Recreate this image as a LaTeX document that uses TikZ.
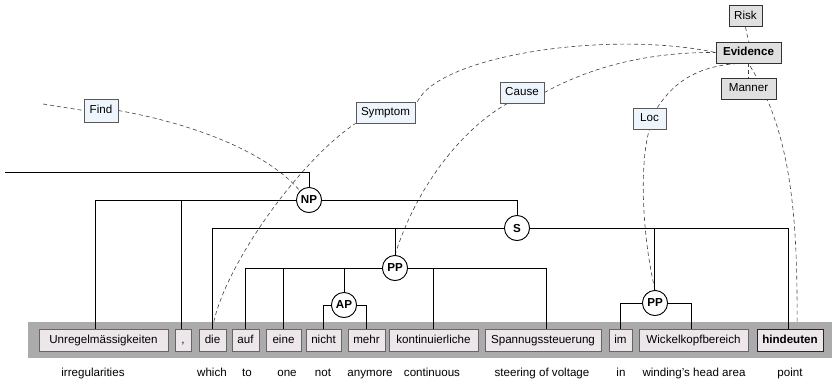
\documentclass[tikz,border=0pt]{standalone}
\usepackage{fontspec}
\setmainfont{Liberation Sans}
\begin{document}
\begin{tikzpicture}[x=1pt,y=-1pt,
  font=\fontsize{11.6}{13}\selectfont,
  treeedge/.style={draw=black,line width=0.8pt},
  roleedge/.style={draw=black!75,line width=0.6pt,dash pattern=on 4pt off 3pt},
  phrase/.style={circle,draw=black,fill=white,line width=0.8pt,minimum size=25pt,inner sep=0pt,font=\fontsize{11.6}{13}\selectfont\bfseries},
  wordbox/.style={draw=black!60,fill=wordfill,line width=0.7pt,minimum height=22pt,inner sep=0pt,text height=8.4pt,text depth=2.4pt},
  rolebox/.style={draw=black!65,fill=rolefill,line width=0.7pt,minimum height=21pt,inner sep=0pt,text height=8.4pt,text depth=2.4pt},
  framebox/.style={draw=black!80,fill=black!12,line width=0.8pt,minimum height=21pt,inner sep=0pt,text height=8.4pt,text depth=2.4pt},
  gloss/.style={inner sep=0pt,text height=8.4pt,text depth=2.4pt}
]
\definecolor{wordfill}{HTML}{EDE7EB}
\definecolor{rolefill}{HTML}{EEF5FD}
\definecolor{bandgray}{HTML}{ABABAB}
\useasboundingbox (0,0) rectangle (835,384);

% frame and role labels
\node[framebox,minimum width=33pt] (risk) at (745.5,16) {Risk};
\node[framebox,minimum width=65pt,font=\fontsize{11.6}{13}\selectfont\bfseries] (evid) at (748.5,52.5) {Evidence};
\node[framebox,minimum width=55pt] (manner) at (748.5,88.5) {Manner};
\node[rolebox,minimum width=34pt,minimum height=23pt] (find) at (101,110.5) {Find};
\node[rolebox,minimum width=59pt] (symptom) at (385.5,112.5) {Symptom};
\node[rolebox,minimum width=44pt] (cause) at (522,92.5) {Cause};
\node[rolebox,minimum width=33pt] (loc) at (649.5,118.5) {Loc};

% phrase nodes of the tree
\node[phrase] (np) at (309,200) {NP};
\node[phrase] (s) at (517,228) {S};
\node[phrase] (pp1) at (395,268) {PP};
\node[phrase] (ap) at (344,305) {AP};
\node[phrase] (pp2) at (655,303) {PP};

% words of the sentence (positions only; drawn later over the band)
\path
  (103.5,340) node[wordbox,minimum width=129pt] (w1) {Unregelmässigkeiten}
  (183,340)   node[wordbox,minimum width=16pt] (w2) {,}
  (212.5,340) node[wordbox,minimum width=27pt] (w3) {die}
  (245.5,340) node[wordbox,minimum width=27pt] (w4) {auf}
  (283.5,340) node[wordbox,minimum width=35pt] (w5) {eine}
  (323.5,340) node[wordbox,minimum width=35pt] (w6) {nicht}
  (366.5,340) node[wordbox,minimum width=37pt] (w7) {mehr}
  (433.5,340) node[wordbox,minimum width=89pt] (w8) {kontinuierliche}
  (543,340)   node[wordbox,minimum width=116pt] (w9) {Spannugssteuerung}
  (620.5,340) node[wordbox,minimum width=23pt] (w10) {im}
  (693.5,340) node[wordbox,minimum width=109pt] (w11) {Wickelkopfbereich}
  (790,340)   node[wordbox,minimum width=66pt,draw=black!85,font=\fontsize{11.6}{13}\selectfont\bfseries] (w12) {hindeuten};

% role links (dashed), behind everything else
\coordinate (findsrc) at (43,104);
\coordinate (root) at (5,172);
\draw[roleedge] (findsrc) -- (find.west);
\draw[roleedge] (find.east) .. controls (200,125) and (270,155) .. (np.135);
\draw[roleedge] (w3.north) .. controls (222,268) and (300,160) .. (symptom.south west);
\draw[roleedge] ([xshift=2pt]symptom.north east) .. controls (440,55) and (610,30) .. (evid.west);
\draw[roleedge] (pp1.north) .. controls (415,190) and (460,130) .. ([xshift=8pt]cause.south west);
\draw[roleedge] (cause.east) .. controls (600,62) and (660,52) .. (evid.west);
\draw[roleedge] (pp2.north) .. controls (641,230) and (640,160) .. (loc.south);
\draw[roleedge] ([xshift=-9pt]loc.north east) .. controls (675,80) and (700,66) .. ([xshift=-10pt]evid.south);
\draw[roleedge] ([xshift=7pt]w12.north) .. controls (798,210) and (790,130) .. (evid.south);
\draw[roleedge] (risk.south) -- (evid.north);
\draw[roleedge] (evid.south) -- (manner.north);

% redraw the label boxes on top of the dashed links
\node[framebox,minimum width=33pt] at (risk) {Risk};
\node[framebox,minimum width=65pt,font=\fontsize{11.6}{13}\selectfont\bfseries] at (evid) {Evidence};
\node[framebox,minimum width=55pt] at (manner) {Manner};
\node[rolebox,minimum width=34pt,minimum height=23pt] at (find) {Find};
\node[rolebox,minimum width=59pt] at (symptom) {Symptom};
\node[rolebox,minimum width=44pt] at (cause) {Cause};
\node[rolebox,minimum width=33pt] at (loc) {Loc};

% grey band under the words
\fill[bandgray] (28,322) rectangle (832,358);

% tree edges
\draw[treeedge] (root) -| (np.north);
\draw[treeedge] ([xshift=-8.5pt]w1.north) |- (np.west);
\draw[treeedge] ([xshift=-2pt]w2.north) |- (np.west);
\draw[treeedge] (np.east) -| (s.north);
\draw[treeedge] (w3.north) |- (s.west);
\draw[treeedge] (pp1.north) |- (s.west);
\draw[treeedge] (s.east) -| ([xshift=-2pt]w12.north);
\draw[treeedge] ([xshift=-1pt]pp2.north) |- (s.east);
\draw[treeedge] (pp1.west) -| (w4.north);
\draw[treeedge] (pp1.west) -| (w5.north);
\draw[treeedge] (pp1.west) -| (ap.north);
\draw[treeedge] (pp1.east) -| (w8.north);
\draw[treeedge] (pp1.east) -| ([xshift=3pt]w9.north);
\draw[treeedge] (ap.west) -| (w6.north);
\draw[treeedge] (ap.east) -| (w7.north);
\draw[treeedge] (pp2.west) -| (w10.north);
\draw[treeedge] (pp2.east) -| ([xshift=-2.5pt]w11.north);

% phrase circles on top of their edges
\foreach \n/\t in {np/NP,s/S,pp1/PP,ap/AP,pp2/PP}
  \node[phrase] at (\n) {\t};

% word boxes on the band
\node[wordbox,minimum width=129pt] at (w1) {Unregelmässigkeiten};
\node[wordbox,minimum width=16pt] at (w2) {,};
\node[wordbox,minimum width=27pt] at (w3) {die};
\node[wordbox,minimum width=27pt] at (w4) {auf};
\node[wordbox,minimum width=35pt] at (w5) {eine};
\node[wordbox,minimum width=35pt] at (w6) {nicht};
\node[wordbox,minimum width=37pt] at (w7) {mehr};
\node[wordbox,minimum width=89pt] at (w8) {kontinuierliche};
\node[wordbox,minimum width=116pt] at (w9) {Spannugssteuerung};
\node[wordbox,minimum width=23pt] at (w10) {im};
\node[wordbox,minimum width=109pt] at (w11) {Wickelkopfbereich};
\node[wordbox,minimum width=66pt,draw=black!85,font=\fontsize{11.6}{13}\selectfont\bfseries] at (w12) {hindeuten};

% English glosses
\foreach \x/\g [count=\i] in {93/irregularities,212/which,247/to,287/one,323/not,370/anymore,432/continuous,542/steering of voltage,621/in,694/winding's head area,790/point}
  \node[gloss] (g\i) at (\x,373) {\g};
\end{tikzpicture}
\end{document}
